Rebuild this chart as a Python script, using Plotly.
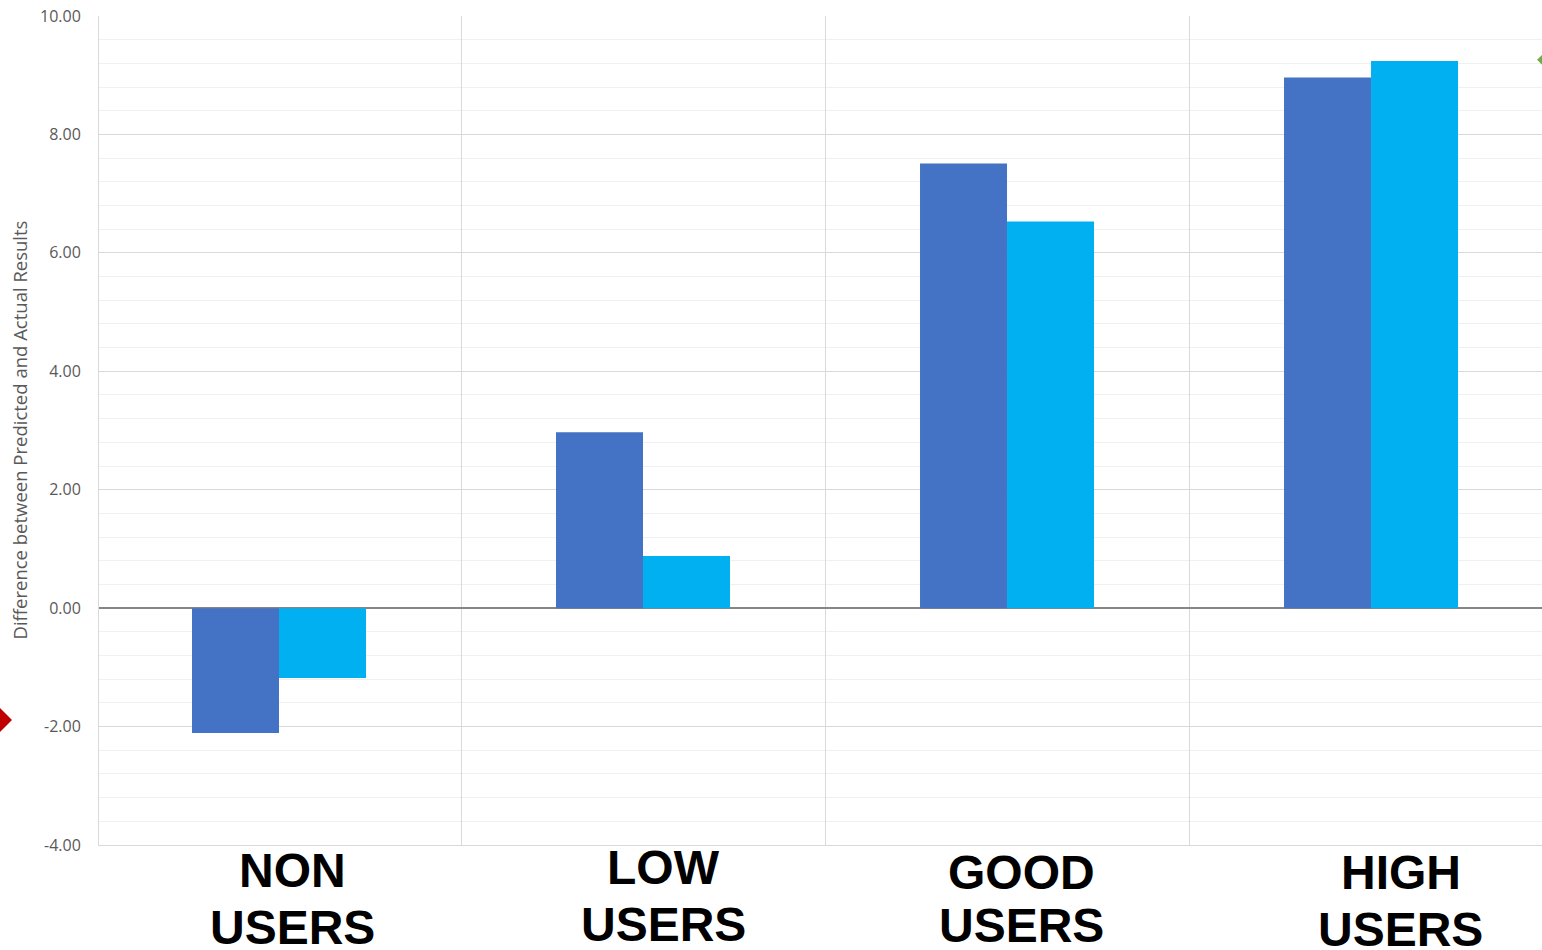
import plotly.graph_objects as go

# ---- data ----
categories = ["NON USERS", "LOW USERS", "GOOD USERS", "HIGH USERS"]
series_a = [-2.11, 2.97, 7.51, 8.96]   # dark blue
series_b = [-1.18, 0.88, 6.53, 9.24]   # light blue
y_title = "Difference between Predicted and Actual Results"
y_ticks = [-4, -2, 0, 2, 4, 6, 8, 10]
y_ticktext = ["-4.00", "-2.00", "0.00", "2.00", "4.00", "6.00", "8.00", "10.00"]
pointer_values = [-1.89, 9.26]          # red / green side pointers
pointer_colors = ["#C00000", "#70AD47"]
pointer_paper_x = [-0.0686, 1.0049]

x_idx = list(range(len(categories)))

fig = go.Figure()
fig.add_trace(go.Bar(x=x_idx, y=series_a, marker=dict(color="#4472C4", line=dict(width=0)),
                     showlegend=False))
fig.add_trace(go.Bar(x=x_idx, y=series_b, marker=dict(color="#00B0F0", line=dict(width=0)),
                     showlegend=False))

# side pointer diamonds (partly outside the plot / page)
h = 12
for v, c, px in zip(pointer_values, pointer_colors, pointer_paper_x):
    fig.add_shape(type="path", xref="paper", yref="y",
                  xsizemode="pixel", ysizemode="pixel", xanchor=px, yanchor=v,
                  path=f"M {-h},0 L 0,{h} L {h},0 L 0,{-h} Z",
                  fillcolor=c, line=dict(width=0), layer="above")

# category labels (two lines each)
label_x_off = [0.036, 0.056, 0.041, 0.081]
line1_shift = [-25.5, -22, -27.5, -27.5]
line2_shift = [-82.5, -79.5, -80.5, -84.5]
for i, cat in enumerate(categories):
    words = cat.split(" ")
    for w, ys in zip(words, [line1_shift[i], line2_shift[i]]):
        fig.add_annotation(x=i + label_x_off[i], xref="x", y=0, yref="paper",
                           yshift=ys, text=w, showarrow=False,
                           xanchor="center", yanchor="middle",
                           font=dict(family="Liberation Sans, Arial", size=48, color="#000000",
                                     weight="bold"))

fig.add_annotation(x=0, xref="paper", xshift=-80, y=0.5, yref="paper", text=y_title,
                   textangle=-90, showarrow=False, xanchor="center", yanchor="middle",
                   font=dict(family="Open Sans", size=18.5, color="#595959"))

fig.update_layout(
    width=1542, height=950,
    margin=dict(l=99, r=0, t=16, b=105),
    paper_bgcolor="white", plot_bgcolor="white",
    barmode="group", bargap=0.522, bargroupgap=0,
    xaxis=dict(type="linear", range=[-0.4945, 3.4697], tickvals=[0.5, 1.5, 2.5],
               showticklabels=False, showgrid=True, gridcolor="#d9d9d9", gridwidth=1,
               zeroline=False, showline=True, linecolor="#d9d9d9", linewidth=1, ticks=""),
    yaxis=dict(range=[-4, 10], tickvals=y_ticks, ticktext=y_ticktext,
               showgrid=True, gridcolor="#d9d9d9", gridwidth=1,
               minor=dict(dtick=0.4, showgrid=True, gridcolor="#f0f0f0", gridwidth=1),
               zeroline=True, zerolinecolor="#868686", zerolinewidth=1.5,
               showline=True, linecolor="#d9d9d9", linewidth=1, ticks="",
               ticklabelstandoff=14,
               tickfont=dict(family="Open Sans", size=16, color="#595959")),
)

fig.write_html("out.html", config={"displayModeBar": False},
               post_script="document.body.style.margin='0';")
